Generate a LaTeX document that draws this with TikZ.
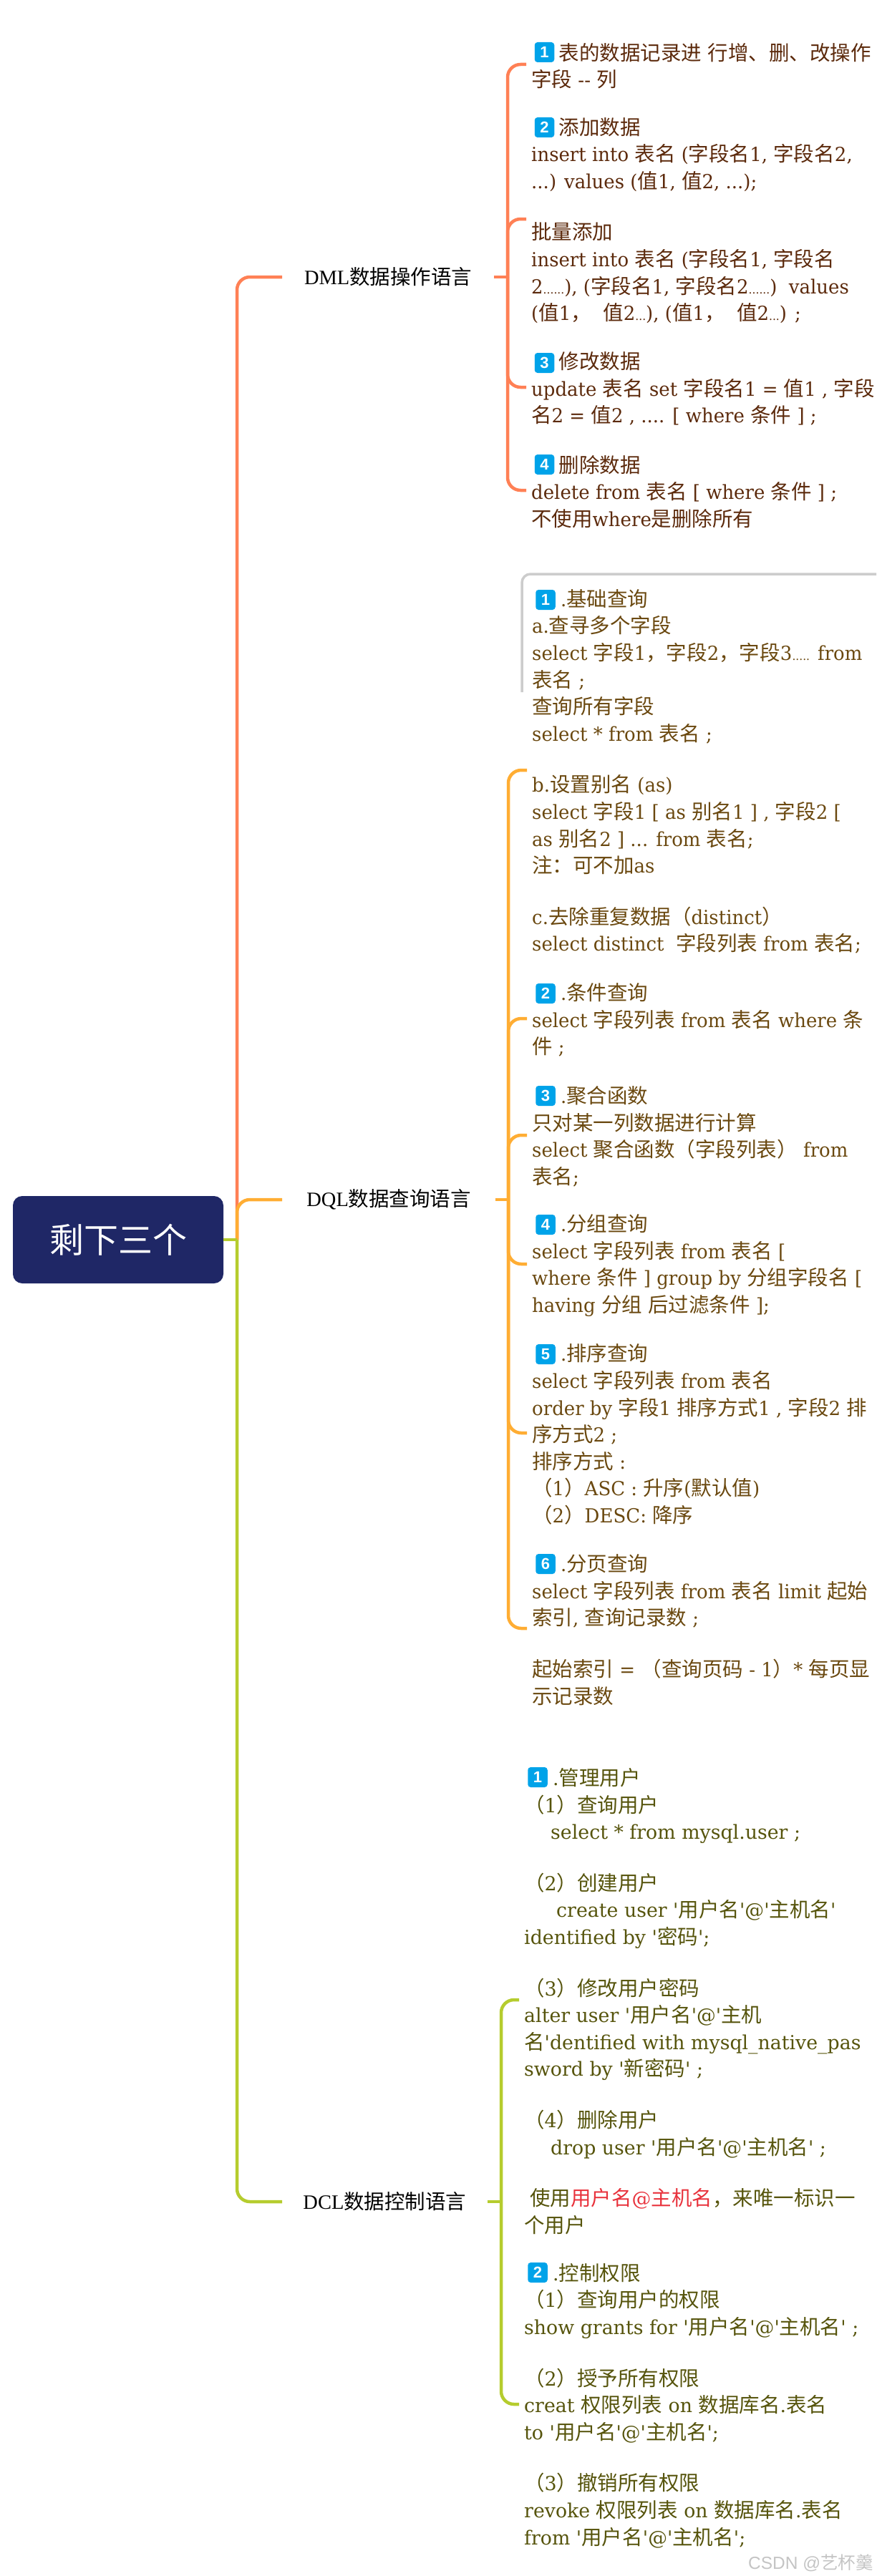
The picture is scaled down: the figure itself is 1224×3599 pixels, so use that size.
\documentclass[tikz,border=0pt]{standalone}
\usepackage{fontspec}
\usepackage{xcolor}
\newfontfamily\bodyfont{DejaVu Serif}[Scale=0.95,FakeStretch=0.96]
\newfontfamily\dclfont{DejaVu Serif}[Scale=0.95,FakeStretch=0.99]
\newfontfamily\labelfont{Liberation Serif}
\newfontfamily\badgefont{Liberation Sans}
\newfontfamily\markfont{Liberation Sans}
\newfontfamily\cjk{Noto Sans CJK SC}
\newcommand{\backfont}{\bodyfont}
\newcommand{\smalldots}[1]{{\fontsize{17}{37.6}\selectfont #1}}
% 中文字符自动换字体
\XeTeXinterchartokenstate=1
\newXeTeXintercharclass\cjkclass
\newcount\cjkcode
\cjkcode="2E80
\loop\XeTeXcharclass\cjkcode=\cjkclass\ifnum\cjkcode<"9FFF\advance\cjkcode by 1\repeat
\cjkcode="FF00
\loop\XeTeXcharclass\cjkcode=\cjkclass\ifnum\cjkcode<"FFEF\advance\cjkcode by 1\repeat
\XeTeXinterchartoks 0 \cjkclass={\cjk}
\XeTeXinterchartoks 4095 \cjkclass={\cjk}
\XeTeXinterchartoks \cjkclass 0={\backfont}
\XeTeXinterchartoks \cjkclass 4095={\backfont}
\definecolor{rootblue}{HTML}{1F2766}
\definecolor{badgeblue}{HTML}{00A3E9}
\definecolor{dmlcolor}{HTML}{FF8055}
\definecolor{dqlcolor}{HTML}{FFAD33}
\definecolor{dclcolor}{HTML}{B5CC2E}
\definecolor{dmlink}{HTML}{5C2A0C}
\definecolor{dqlink}{HTML}{6A480F}
\definecolor{dclink}{HTML}{56540C}
\definecolor{redink}{HTML}{E8323C}
\tikzset{
	body/.style={anchor=west,align=left,inner xsep=7pt,inner ysep=0pt,
		font=\fontsize{28.5}{37.6}\selectfont\bodyfont},
	dmltext/.style={body,text=dmlink},
	dqltext/.style={body,text=dqlink},
	dcltext/.style={body,text=dclink,
		font=\def\backfont{\dclfont}\fontsize{28.5}{37.6}\selectfont\dclfont},
	branch/.style={anchor=west,align=center,inner xsep=0pt,text=black,
		font=\def\backfont{\labelfont}\fontsize{28.5}{34}\selectfont\labelfont},
	root/.style={fill=rootblue,rounded corners=13pt,text=white,inner sep=0pt,
		minimum width=294pt,minimum height=122pt,font=\fontsize{48}{56}\selectfont\cjk},
	badge/.style={fill=badgeblue,rounded corners=4pt,text=white,inner sep=0pt,
		minimum width=27.5pt,minimum height=28pt,font=\fontsize{22}{24}\selectfont\badgefont\bfseries},
	dmlline/.style={draw=dmlcolor,line width=4.5pt,rounded corners=18pt},
	dqlline/.style={draw=dqlcolor,line width=4.5pt,rounded corners=18pt},
	dclline/.style={draw=dclcolor,line width=4.5pt,rounded corners=18pt},
	grayline/.style={draw=black!20,line width=3.5pt,rounded corners=12pt}
}
\begin{document}
\begin{tikzpicture}[x=1pt,y=-1pt]
	\useasboundingbox (0,0) rectangle (1224,3599);
	% 命名点
	\coordinate (rootfork) at (331,1732);
	\coordinate (dmlfork) at (709,387);
	\coordinate (dqlfork) at (710,1676);
	\coordinate (dclfork) at (700,3076);
	\coordinate (grayA) at (729,967);
	\coordinate (grayB) at (1224,802);
	
	% 中心和分支
	\node[root] (root) at (165,1732) {剩下三个};
	\node[branch,minimum width=296pt] (dml) at (394,387) {DML数据操作语言};
	\node[branch,minimum width=298pt] (dql) at (394,1676) {DQL数据查询语言};
	\node[branch,minimum width=286.5pt] (dcl) at (394,3076) {DCL数据控制语言};
	
	% DML
	\node[dmltext] (dmlA) at (735,92) {\hspace*{38.6pt}表的数据记录进 行增、删、改操作\\字段 -- 列};
	\node[dmltext] (dmlB) at (735,308) {\hspace*{38.6pt}添加数据\\
		insert into 表名 (字段名1, 字段名2,\\
		...) values (值1, 值2, ...);\\[34pt]
		批量添加\\
		insert into 表名 (字段名1, 字段名\\
		2\smalldots{......}), (字段名1, 字段名2\smalldots{......})\ \ values\\
		(值1，\ \ 值2\smalldots{...}), (值1，\ \ 值2\smalldots{...}) ;};
	\node[dmltext] (dmlC) at (735,543) {\hspace*{38.6pt}修改数据\\
		update 表名 set 字段名1 = 值1 , 字段\\
		名2 = 值2 , .... [ where 条件 ] ;};
	\node[dmltext] (dmlD) at (735,687) {\hspace*{38.6pt}删除数据\\
		delete from 表名 [ where 条件 ] ;\\
		不使用where是删除所有};
	
	% DQL
	\node[dqltext] (dqlA) at (736,1078) {\hspace*{40pt}.基础查询\\
		a.查寻多个字段\\
		select 字段1，字段2，字段3\smalldots{.....} from\\
		表名 ;\\
		查询所有字段\\
		select * from 表名 ;\\[34pt]
		b.设置别名 (as)\\
		select 字段1 [ as 别名1 ] , 字段2 [\\
		as 别名2 ] ... from 表名;\\
		注：可不加as\\[34pt]
		c.去除重复数据（distinct）\\
		select distinct\ \ 字段列表 from 表名;};
	\node[dqltext] (dqlB) at (736,1425) {\hspace*{40pt}.条件查询\\
		select 字段列表 from 表名 where 条\\
		件 ;};
	\node[dqltext] (dqlC) at (736,1588) {\hspace*{40pt}.聚合函数\\
		只对某一列数据进行计算\\
		select 聚合函数（字段列表） from\\
		表名;};
	\node[dqltext] (dqlD) at (736,1768) {\hspace*{40pt}.分组查询\\
		select 字段列表 from 表名 [\\
		where 条件 ] group by 分组字段名 [\\
		having 分组 后过滤条件 ];};
	\node[dqltext] (dqlE) at (736,2004) {\hspace*{40pt}.排序查询\\
		select 字段列表 from 表名\\
		order by 字段1 排序方式1 , 字段2 排\\
		序方式2 ;\\
		排序方式 :\\
		（1）ASC : 升序(默认值)\\
		（2）DESC: 降序};
	\node[dqltext] (dqlF) at (736,2277) {\hspace*{40pt}.分页查询\\
		select 字段列表 from 表名 limit 起始\\
		索引, 查询记录数 ;\\[34pt]
		起始索引 = （查询页码 - 1）* 每页显\\
		示记录数};
	
	% DCL
	\node[dcltext] (dclA) at (725,2796) {\hspace*{40pt}.管理用户\\
		（1）查询用户\\
		\hspace*{37pt}select * from mysql.user ;\\[34pt]
		（2）创建用户\\
		\hspace*{45pt}create user '用户名'@'主机名'\\
		identified by '密码';\\[34pt]
		（3）修改用户密码\\
		alter user '用户名'@'主机\\
		名'dentified with mysql\_native\_pas\\
		sword by '新密码' ;\\[34pt]
		（4）删除用户\\
		\hspace*{37pt}drop user '用户名'@'主机名' ;\\[34pt]
		\hspace*{8pt}使用\textcolor{redink}{用户名@主机名}，来唯一标识一\\
		个用户};
	\node[dcltext] (dclB) at (725,3361) {\hspace*{40pt}.控制权限\\
		（1）查询用户的权限\\
		show grants for '用户名'@'主机名' ;\\[34pt]
		（2）授予所有权限\\
		creat 权限列表 on 数据库名.表名\\
		to '用户名'@'主机名';\\[34pt]
		（3）撤销所有权限\\
		revoke 权限列表 on 数据库名.表名\\
		from '用户名'@'主机名';};
	
	% 批量标记序号
	\foreach \n/\t/\x/\y in {a/1/760.5/73,b/2/760.5/178,c/3/760.5/507,d/4/760.5/649,
		e/1/762/838,f/2/762/1388,g/3/762/1531,h/4/762/1711,i/5/762/1892,j/6/762/2185,
		k/1/751/2483,l/2/751/3175}
	\node[badge] (badge\n) at (\x,\y) {\t};
	
	% 连线
	\draw[dmlline] (rootfork) |- (dml.west);
	\draw[dqlline] (rootfork) |- (dql.west);
	\draw[dclline] (rootfork) |- (dcl.west);
	\draw[dclline] (root.east) -- (rootfork);
	\draw[dmlline] (dml.east) -- (dmlfork);
	\draw[dqlline] (dql.east) -- (dqlfork);
	\draw[dclline] (dcl.east) -- (dclfork);
	\foreach \c in {dmlA,dmlB,dmlC,dmlD}
	\draw[dmlline] (dmlfork) |- ([yshift=2pt]\c.west);
	\foreach \c in {dqlA,dqlB,dqlC,dqlD,dqlE,dqlF}
	\draw[dqlline] (dqlfork) |- ([yshift=2pt]\c.west);
	\foreach \c in {dclA,dclB}
	\draw[dclline] (dclfork) |- ([yshift=2pt]\c.west);
	\draw[grayline] (grayA) |- (grayB);
	
	\node[anchor=east,inner sep=0pt,text=black!23,font=\def\backfont{\markfont}\fontsize{24.5}{28}\selectfont\markfont] (mark) at (1220,3581) {CSDN @艺杯羹};
\end{tikzpicture}
\end{document}
